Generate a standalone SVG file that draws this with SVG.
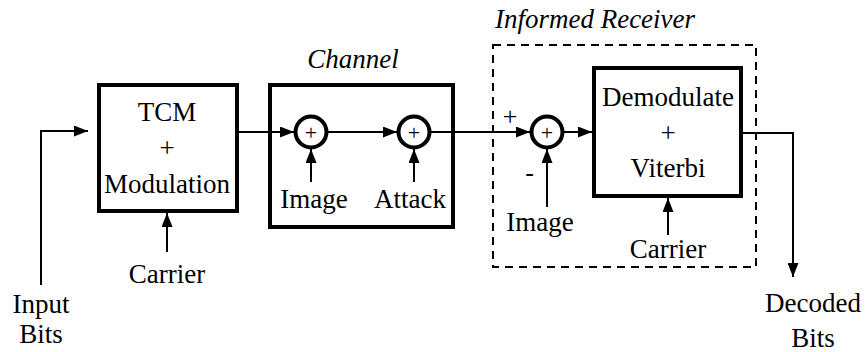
<svg xmlns="http://www.w3.org/2000/svg" width="868" height="352" viewBox="0 0 868 352">
  <style>
    .t { font-family: 'Liberation Serif', 'Times New Roman', Times, serif; font-size: 27px; fill: #000; text-anchor: middle; }
    .it { font-style: italic; }
    .sign { font-size: 22px; }
    .pm { font-size: 26px; }
    .box { fill: #fff; stroke: #000; stroke-width: 4; }
    .sum { fill: #fff; stroke: #000; stroke-width: 4; }
    .wire { fill: none; stroke: #000; stroke-width: 2; }
    .frame { fill: none; stroke: #000; stroke-width: 2; stroke-dasharray: 8 6; }
  </style>
  <defs>
    <marker id="arrow" viewBox="0 0 14 11" refX="14" refY="5.5" markerWidth="14" markerHeight="11" markerUnits="userSpaceOnUse" orient="auto">
      <path d="M0,0 L14,5.5 L0,11 Z" fill="#000"/>
    </marker>
  </defs>

  <!-- receiver frame -->
  <g id="receiver">
    <rect class="frame" x="493" y="45" width="263" height="222"/>
    <text class="t it" x="595" y="28">Informed Receiver</text>
  </g>

  <!-- channel block -->
  <g id="channel">
    <rect class="box" x="270" y="85" width="183" height="142"/>
    <text class="t it" x="353" y="68">Channel</text>
  </g>

  <g id="tcm">
    <rect class="box" x="99" y="85" width="138" height="126"/>
    <text class="t" x="167" y="121">TCM</text>
    <text class="t" x="167" y="157">+</text>
    <text class="t" x="167" y="193">Modulation</text>
  </g>

  <g id="demod">
    <rect class="box" x="594" y="68" width="147" height="128"/>
    <text class="t" x="668" y="106">Demodulate</text>
    <text class="t" x="668" y="142">+</text>
    <text class="t" x="668" y="177">Viterbi</text>
  </g>

  <g id="sum1">
    <circle class="sum" cx="311" cy="132" r="15.5"/>
    <text class="t sign" x="311" y="140">+</text>
  </g>
  <g id="sum2">
    <circle class="sum" cx="414" cy="132" r="15.5"/>
    <text class="t sign" x="414" y="140">+</text>
  </g>
  <g id="sum3">
    <circle class="sum" cx="547" cy="132" r="15.5"/>
    <text class="t sign" x="547" y="140">+</text>
    <text class="t pm" x="510" y="125">+</text>
    <text class="t pm" x="529.5" y="181">-</text>
  </g>

  <g id="labels">
    <text class="t" x="41" y="313">Input</text>
    <text class="t" x="41" y="343">Bits</text>
    <text class="t" x="167" y="283">Carrier</text>
    <text class="t" x="314" y="208">Image</text>
    <text class="t" x="410" y="208">Attack</text>
    <text class="t" x="540" y="231">Image</text>
    <text class="t" x="668" y="258">Carrier</text>
    <text class="t" x="813" y="312">Decoded</text>
    <text class="t" x="813" y="347">Bits</text>
  </g>

  <!-- signal connectors -->
  <g id="connectors">
    <polyline class="wire" points="41,285 41,131 88,131" marker-end="url(#arrow)"/>
    <line class="wire" x1="167" y1="252" x2="167" y2="213" marker-end="url(#arrow)"/>
    <line class="wire" x1="237" y1="132" x2="294" y2="132" marker-end="url(#arrow)"/>
    <line class="wire" x1="311" y1="182" x2="311" y2="149" marker-end="url(#arrow)"/>
    <line class="wire" x1="327" y1="132" x2="397" y2="132" marker-end="url(#arrow)"/>
    <line class="wire" x1="414" y1="182" x2="414" y2="149" marker-end="url(#arrow)"/>
    <line class="wire" x1="430" y1="132" x2="530" y2="132" marker-end="url(#arrow)"/>
    <line class="wire" x1="547" y1="207" x2="547" y2="149" marker-end="url(#arrow)"/>
    <line class="wire" x1="563" y1="132" x2="592" y2="132" marker-end="url(#arrow)"/>
    <line class="wire" x1="668" y1="235" x2="668" y2="198" marker-end="url(#arrow)"/>
    <polyline class="wire" points="741,133 793,133 793,277" marker-end="url(#arrow)"/>
  </g>
</svg>
